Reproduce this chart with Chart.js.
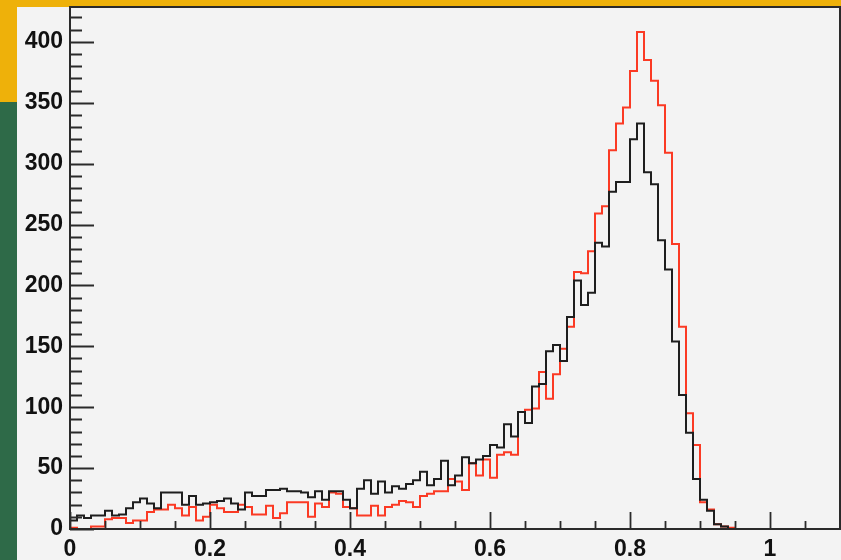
<!DOCTYPE html>
<html>
<head>
<meta charset="utf-8">
<script src="https://cdn.jsdelivr.net/npm/chart.js@4.4.1/dist/chart.umd.min.js"></script>
<style>
  html, body { margin: 0; padding: 0; background: #eeb10a; }
  canvas { display: block; }
</style>
</head>
<body>
<canvas id="hist" width="841" height="560"></canvas>
<script>
// Histogram binning: 110 bins of width 0.01 over [0, 1.1]
const HIST_MIN = 0;
const HIST_MAX = 1.1;
const N_BINS = 110;

// Bin contents, black histogram
const countsBlack = [
  7, 11, 9, 11, 11, 15, 11, 12, 17, 22,
  25, 21, 17, 30, 30, 30, 20, 27, 20, 21,
  22, 23, 25, 21, 16, 30, 27, 27, 32, 32,
  33, 31, 31, 30, 26, 31, 24, 31, 31, 24,
  17, 33, 40, 29, 39, 30, 35, 33, 37, 40,
  47, 36, 41, 56, 36, 44, 59, 54, 57, 60,
  69, 67, 86, 76, 96, 87, 117, 119, 146, 151,
  138, 174, 204, 184, 194, 235, 232, 277, 285, 285,
  320, 333, 293, 283, 237, 213, 154, 110, 79, 41,
  24, 15, 4, 2, 0, 0, 0, 0, 0, 0,
  0, 0, 0, 0, 0, 0, 0, 0, 0, 0
];

// Bin contents, red histogram
const countsRed = [
  1, 0, 0, 2, 2, 8, 9, 9, 5, 7,
  7, 14, 16, 16, 20, 17, 11, 18, 7, 10,
  20, 17, 14, 14, 20, 18, 12, 12, 19, 9,
  13, 22, 22, 22, 10, 21, 18, 30, 29, 18,
  17, 11, 11, 19, 11, 18, 20, 23, 22, 18,
  27, 29, 31, 31, 41, 39, 32, 54, 44, 57,
  42, 61, 63, 61, 96, 98, 99, 129, 107, 127,
  148, 166, 211, 210, 228, 259, 265, 311, 333, 346,
  376, 408, 385, 368, 348, 309, 234, 166, 95, 69,
  22, 16, 4, 2, 1, 0, 0, 0, 0, 0,
  0, 0, 0, 0, 0, 0, 0, 0, 0, 0
];

// Labelled axis values
const xTickLabels = [0, 0.2, 0.4, 0.6, 0.8, 1];
const yTickLabels = [0, 50, 100, 150, 200, 250, 300, 350, 400];

// Axis extents and tick spacing
const Y_MAX = 428.6;
const X_MINOR = 0.05;
const Y_MINOR = 10;

// Turn bin contents into step-outline points (left bin edges)
function stepPoints(counts) {
  const w = (HIST_MAX - HIST_MIN) / N_BINS;
  const pts = [{ x: HIST_MIN, y: 0 }];
  counts.forEach((c, i) => pts.push({ x: +(HIST_MIN + i * w).toFixed(4), y: c }));
  pts.push({ x: HIST_MAX, y: 0 });
  return pts;
}

function isLabelled(v, list) {
  return list.some(l => Math.abs(l - v) < 1e-6);
}

function fmt(v) {
  return String(+v.toFixed(2));
}

// Outer decoration and grey pad
const backdrop = {
  id: 'backdrop',
  beforeDraw(chart) {
    const ctx = chart.ctx;
    ctx.save();
    ctx.fillStyle = '#eeb10a';
    ctx.fillRect(0, 0, chart.width, chart.height);
    ctx.fillStyle = '#2e6a48';
    ctx.fillRect(0, 102, 17, chart.height - 102);
    ctx.fillStyle = '#f3f3f3';
    ctx.fillRect(17, 7, chart.width - 17, chart.height - 7);
    ctx.restore();
  }
};

// Frame box and inward tick marks
const frameTicks = {
  id: 'frameTicks',
  afterDraw(chart) {
    const { ctx, chartArea: a } = chart;
    const xs = chart.scales.x, ys = chart.scales.y;
    ctx.save();
    ctx.strokeStyle = '#2a2a2a';
    ctx.lineWidth = 1.8;
    ctx.beginPath();
    xs.ticks.forEach(t => {
      const px = Math.round(xs.getPixelForValue(t.value)) + 0.5;
      const len = isLabelled(t.value, xTickLabels) ? 17 : 8;
      ctx.moveTo(px, a.bottom);
      ctx.lineTo(px, a.bottom - len);
    });
    ys.ticks.forEach(t => {
      const py = Math.round(ys.getPixelForValue(t.value)) + 0.5;
      const len = isLabelled(t.value, yTickLabels) ? 24 : 12;
      ctx.moveTo(a.left, py);
      ctx.lineTo(a.left + len, py);
    });
    ctx.stroke();
    ctx.lineWidth = 2;
    ctx.strokeRect(a.left, a.top, a.right - a.left, a.bottom - a.top);
    ctx.restore();
  }
};

const tickFont = { family: "'Liberation Sans', Arial, Helvetica, sans-serif", size: 23, weight: 'bold' };

new Chart(document.getElementById('hist'), {
  type: 'line',
  data: {
    datasets: [
      {
        data: stepPoints(countsBlack),
        borderColor: '#1e1e1e',
        borderWidth: 2,
        stepped: 'before',
        pointRadius: 0,
        fill: false
      },
      {
        data: stepPoints(countsRed),
        borderColor: '#fb3a24',
        borderWidth: 2,
        stepped: 'before',
        pointRadius: 0,
        fill: false
      }
    ]
  },
  options: {
    responsive: false,
    animation: false,
    devicePixelRatio: 1,
    layout: { padding: { left: 0, top: 7, right: 1, bottom: 0 } },
    plugins: { legend: { display: false }, tooltip: { enabled: false } },
    scales: {
      x: {
        type: 'linear',
        min: HIST_MIN,
        max: HIST_MAX,
        grid: { display: false, drawTicks: false },
        border: { display: false },
        afterFit(scale) {
          scale.height = 31;
          scale.paddingLeft = 0;
          scale.paddingRight = 0;
        },
        ticks: {
          stepSize: X_MINOR,
          includeBounds: false,
          autoSkip: false,
          maxRotation: 0,
          padding: 7,
          color: '#111',
          font: tickFont,
          callback: v => isLabelled(v, xTickLabels) ? fmt(v) : ''
        }
      },
      y: {
        type: 'linear',
        min: 0,
        max: Y_MAX,
        grid: { display: false, drawTicks: false },
        border: { display: false },
        afterFit(scale) {
          scale.width = 70;
          scale.paddingTop = 0;
          scale.paddingBottom = 0;
        },
        ticks: {
          stepSize: Y_MINOR,
          includeBounds: false,
          autoSkip: false,
          padding: 7,
          color: '#111',
          font: tickFont,
          callback: v => isLabelled(v, yTickLabels) ? String(v) : ''
        }
      }
    }
  },
  plugins: [backdrop, frameTicks]
});
</script>
</body>
</html>
